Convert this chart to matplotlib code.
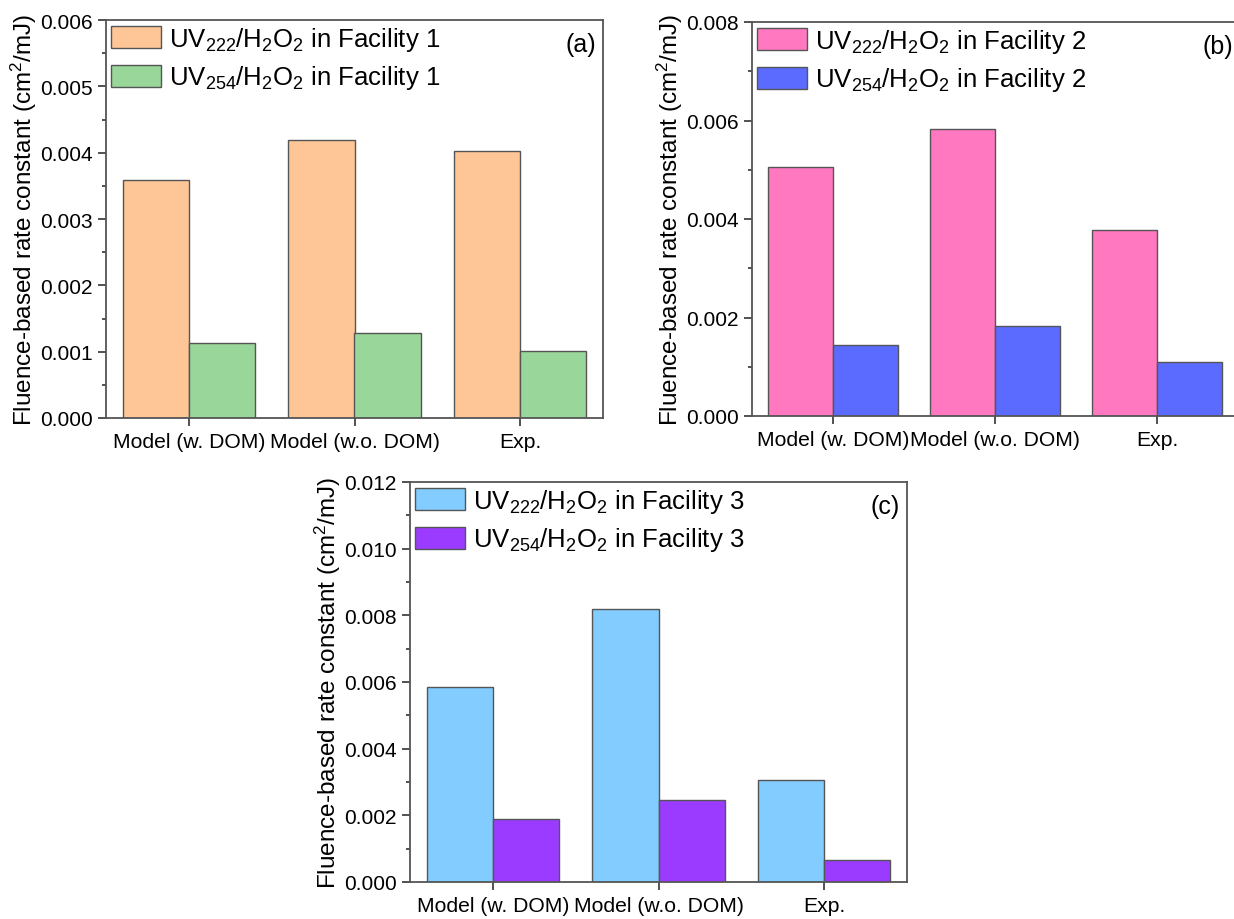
import numpy as np
import matplotlib
matplotlib.use('Agg')
import matplotlib.pyplot as plt
from matplotlib.ticker import MultipleLocator, FormatStrFormatter

plt.rcParams['font.family'] = ['Liberation Sans', 'DejaVu Sans']
plt.rcParams['mathtext.fontset'] = 'custom'
plt.rcParams['mathtext.rm'] = 'Liberation Sans'
plt.rcParams['mathtext.it'] = 'Liberation Sans:italic'

categories = ['Model (w. DOM)', 'Model (w.o. DOM)', 'Exp.']

# panel (a) facility 1
f1_uv222 = [0.00359, 0.00419, 0.00403]
f1_uv254 = [0.00113, 0.00128, 0.00101]
# panel (b) facility 2
f2_uv222 = [0.00506, 0.00583, 0.00378]
f2_uv254 = [0.00144, 0.00183, 0.00110]
# panel (c) facility 3
f3_uv222 = [0.00586, 0.00818, 0.00307]
f3_uv254 = [0.00188, 0.00246, 0.00065]

W, H = 1234, 920
fig = plt.figure(figsize=(W / 100, H / 100), dpi=100)

def px_axes(left, top, right, bottom):
    return fig.add_axes([left / W, 1 - bottom / H, (right - left) / W, (bottom - top) / H])

def panel(ax, v222, v254, c222, c254, fac, ymax, major, letter, lx=0.955):
    x = np.arange(len(categories))
    w = 0.4
    ax.bar(x - w / 2, v222, w, color=c222, edgecolor='#555555', linewidth=1,
           label=r'UV$_{222}$/H$_2$O$_2$ in Facility ' + fac)
    ax.bar(x + w / 2, v254, w, color=c254, edgecolor='#555555', linewidth=1,
           label=r'UV$_{254}$/H$_2$O$_2$ in Facility ' + fac)
    ax.set_xlim(-0.5, 2.5)
    ax.set_ylim(0, ymax)
    ax.set_xticks(x)
    ax.set_xticklabels(categories, fontsize=15.2)
    ax.yaxis.set_major_locator(MultipleLocator(major))
    ax.yaxis.set_minor_locator(MultipleLocator(major / 2))
    ax.yaxis.set_major_formatter(FormatStrFormatter('%.3f'))
    ax.tick_params(axis='y', which='major', labelsize=15, length=6, width=1.2, color='#333333')
    ax.tick_params(axis='y', which='minor', length=3, width=1.2, color='#333333')
    ax.tick_params(axis='x', length=6, width=1.2, color='#333333', pad=4)
    for s in ax.spines.values():
        s.set_linewidth(1.3)
        s.set_color('#555555')
    ax.set_ylabel('Fluence-based rate constant (cm$^2$/mJ)', fontsize=17.5, labelpad=1)
    ax.legend(loc='upper left', fontsize=18.5, frameon=False, handlelength=1.95,
              handleheight=0.95, handletextpad=0.3, labelspacing=0.4,
              borderaxespad=0.0, borderpad=0.2)
    ax.text(lx, 0.94, letter, transform=ax.transAxes, fontsize=18,
            ha='center', va='center')

ax_a = px_axes(106, 21, 603, 419)
panel(ax_a, f1_uv222, f1_uv254, '#FEC696', '#99D699', '1', 0.006, 0.001, '(a)')

ax_b = px_axes(752, 23, 1238, 417)
panel(ax_b, f2_uv222, f2_uv254, '#FF78C0', '#5B6BFF', '2', 0.008, 0.002, '(b)', lx=0.958)

ax_c = px_axes(410, 483, 907, 883)
panel(ax_c, f3_uv222, f3_uv254, '#82CCFF', '#9B3BFF', '3', 0.012, 0.002, '(c)')

fig.savefig('out.png', dpi=100)
